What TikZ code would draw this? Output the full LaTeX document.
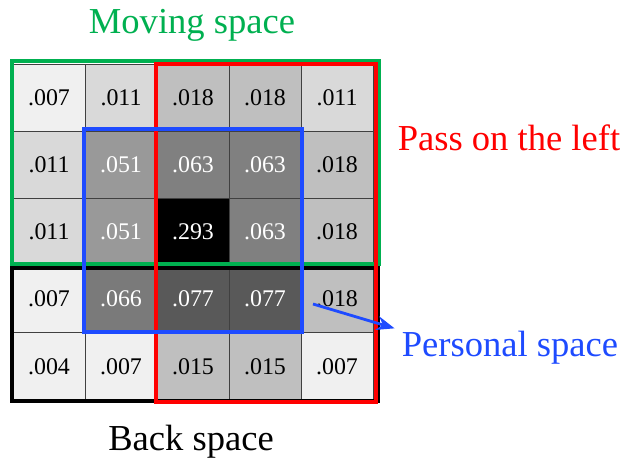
\documentclass[tikz,border=0pt]{standalone}
\usepackage{fontspec}
\setmainfont{Liberation Serif}
\usetikzlibrary{positioning, arrows.meta}

\definecolor{movegreen}{RGB}{0,176,80}
\definecolor{passred}{RGB}{255,0,0}
\definecolor{persblue}{RGB}{30,75,255}

\begin{document}
\begin{tikzpicture}[
    x=0.025cm, y=-0.025cm,
    cell/.style={
        rectangle,
        draw=black!75,
        line width=0.6pt,
        minimum width=1.8cm,
        minimum height=1.68cm,
        inner sep=0pt,
        font=\fontsize{17}{20}\selectfont
    },
    dark/.style={cell, text=white},
    zone/.style={line width=2.8pt},
    label/.style={font=\fontsize{26}{30}\selectfont, inner sep=2pt},
    arrow/.style={-{Stealth[length=4.5mm, width=3.5mm]}, line width=2pt}
]
\useasboundingbox (0,0) rectangle (625,463);

% Row 1
\node[cell, fill=black!6] (c11) at (49, 97.6) {.007};
\node[cell, fill=black!15] (c12) at (121, 97.6) {.011};
\node[cell, fill=black!25] (c13) at (193, 97.6) {.018};
\node[cell, fill=black!25] (c14) at (265, 97.6) {.018};
\node[cell, fill=black!15] (c15) at (337, 97.6) {.011};

% Row 2
\node[cell, fill=black!15] (c21) at (49, 164.8) {.011};
\node[dark, fill=black!40] (c22) at (121, 164.8) {.051};
\node[dark, fill=black!50] (c23) at (193, 164.8) {.063};
\node[dark, fill=black!50] (c24) at (265, 164.8) {.063};
\node[cell, fill=black!25] (c25) at (337, 164.8) {.018};

% Row 3
\node[cell, fill=black!15] (c31) at (49, 232) {.011};
\node[dark, fill=black!40] (c32) at (121, 232) {.051};
\node[dark, fill=black] (c33) at (193, 232) {.293};
\node[dark, fill=black!50] (c34) at (265, 232) {.063};
\node[cell, fill=black!25] (c35) at (337, 232) {.018};

% Row 4
\node[cell, fill=black!6] (c41) at (49, 299.2) {.007};
\node[dark, fill=black!52] (c42) at (121, 299.2) {.066};
\node[dark, fill=black!65] (c43) at (193, 299.2) {.077};
\node[dark, fill=black!65] (c44) at (265, 299.2) {.077};
\node[cell, fill=black!25] (c45) at (337, 299.2) {.018};

% Row 5
\node[cell, fill=black!6] (c51) at (49, 366.4) {.004};
\node[cell, fill=black!6] (c52) at (121, 366.4) {.007};
\node[cell, fill=black!25] (c53) at (193, 366.4) {.015};
\node[cell, fill=black!25] (c54) at (265, 366.4) {.015};
\node[cell, fill=black!6] (c55) at (337, 366.4) {.007};

% Zones
\draw[zone, movegreen] (12, 61) rectangle (379, 264);
\draw[zone, black] (12, 268) rectangle (378, 401);
\draw[zone, passred] (156, 64) rectangle (376, 402);
\draw[zone, persblue] (84, 129) rectangle (302, 332);

% Labels
\node[label, movegreen] (move) at (192, 25) {Moving space};
\node[label, passred] (pass) at (509, 138) {Pass on the left};
\node[label, persblue] (pers) at (510, 348) {Personal space};
\node[label, black] (back) at (191, 442) {Back space};

% Pointer to personal space
\coordinate (ptr) at (313, 304);
\draw[arrow, persblue] (ptr) -- ([xshift=-3pt]pers.north west);

\end{tikzpicture}
\end{document}
